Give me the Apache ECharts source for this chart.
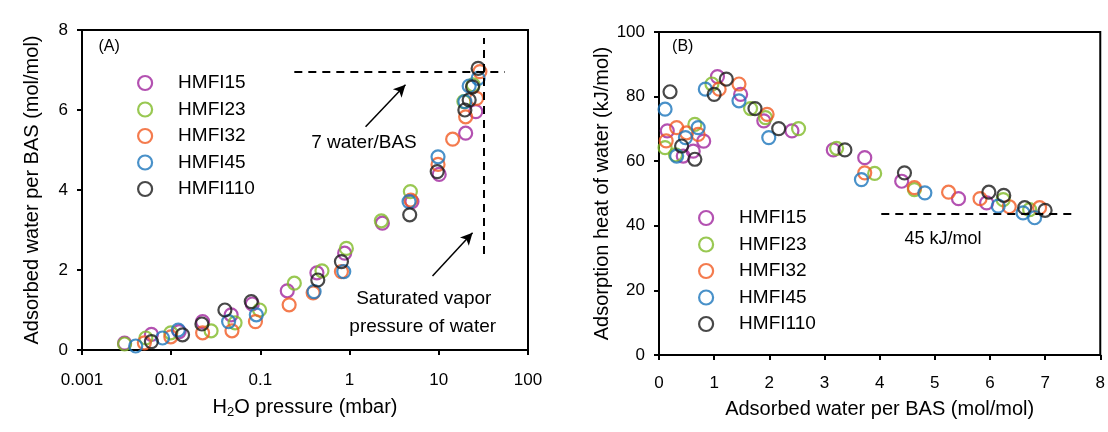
<!DOCTYPE html>
<html>
<head>
<meta charset="utf-8">
<script src="https://cdn.jsdelivr.net/npm/echarts@6/dist/echarts.min.js"></script>
<style>
  html, body { margin: 0; padding: 0; background: #fff; }
  #chart { width: 1108px; height: 432px; }
</style>
</head>
<body>
<div id="chart"></div>
<script>
// series names + colours
var names = ["HMFI15", "HMFI23", "HMFI32", "HMFI45", "HMFI110"];
var colors = ["#A0259E", "#80BA27", "#F15A22", "#1C75BC", "#1a1a1a"];

// Panel A: H2O pressure (mbar) / adsorbed water per BAS
var pA15 = [0.0030, 0.0060, 0.0123, 0.0225, 0.047, 0.081, 0.20, 0.43, 0.88, 2.33, 5.0, 10.1, 20, 26];
var wA15 = [0.17, 0.39, 0.46, 0.71, 0.88, 1.15, 1.48, 1.93, 2.42, 3.17, 3.71, 4.39, 5.42, 5.96];
var pA23 = [0.0030, 0.0052, 0.0099, 0.028, 0.052, 0.098, 0.24, 0.49, 0.92, 2.27, 4.8, 19.1, 24.3];
var wA23 = [0.15, 0.30, 0.43, 0.48, 0.68, 1.00, 1.67, 1.98, 2.54, 3.23, 3.96, 6.21, 6.63];
var pA32 = [0.0050, 0.0099, 0.0225, 0.048, 0.088, 0.21, 0.39, 0.81, 4.85, 9.8, 14.3, 20, 26.5, 28.9];
var wA32 = [0.18, 0.33, 0.43, 0.48, 0.71, 1.13, 1.43, 1.96, 3.75, 4.64, 5.27, 5.83, 6.29, 6.96];
var pA45 = [0.0040, 0.0080, 0.0120, 0.044, 0.090, 0.40, 0.86, 4.64, 9.8, 19.6, 21.9, 27.6];
var wA45 = [0.10, 0.30, 0.50, 0.71, 0.88, 1.46, 1.96, 3.71, 4.83, 6.21, 6.60, 6.79];
var pA110 = [0.0060, 0.0134, 0.0221, 0.040, 0.079, 0.44, 0.81, 4.72, 9.6, 19.6, 21.9, 23.9, 27.6];
var wA110 = [0.21, 0.38, 0.65, 1.00, 1.21, 1.75, 2.21, 3.38, 4.46, 6.00, 6.25, 6.58, 7.04];

// Panel B: adsorbed water per BAS / adsorption heat (kJ/mol)
var wB15 = [0.15, 0.44, 0.62, 0.81, 1.06, 1.48, 1.90, 2.41, 3.16, 3.73, 4.40, 5.43, 5.94];
var hB15 = [69.4, 61.6, 63.1, 66.2, 86.2, 80.7, 72.5, 69.4, 63.5, 61.1, 53.8, 48.4, 47.1];
var wB23 = [0.11, 0.30, 0.65, 0.96, 1.66, 1.93, 2.53, 3.22, 3.91, 4.63, 6.24, 6.72];
var hB23 = [64.2, 62.0, 71.4, 83.9, 76.3, 73.5, 70.1, 64.0, 56.2, 51.2, 48.1, 45.0];
var wB32 = [0.13, 0.32, 0.50, 0.71, 1.09, 1.45, 1.96, 3.73, 4.63, 5.25, 5.82, 6.35, 6.90];
var hB32 = [66.3, 70.4, 68.8, 68.3, 82.3, 83.9, 74.5, 56.4, 51.8, 50.4, 48.4, 45.9, 45.6];
var wB45 = [0.11, 0.32, 0.48, 0.71, 0.84, 1.45, 1.99, 3.67, 4.82, 6.15, 6.60, 6.81];
var hB45 = [76.1, 61.6, 67.3, 70.4, 82.3, 78.7, 67.3, 54.3, 50.2, 46.1, 44.0, 42.5];
var wB110 = [0.20, 0.41, 0.65, 1.00, 1.22, 1.74, 2.17, 3.37, 4.45, 5.98, 6.25, 6.63, 7.00];
var hB110 = [81.5, 64.7, 60.6, 80.7, 85.4, 76.3, 70.1, 63.5, 56.4, 50.4, 49.4, 45.6, 44.8];

// annotation coordinates (data space)
var waterLineA = [[0.24, 6.96], [55, 6.96]];
var satLineA = [[32, 2.4], [32, 7.8]];
var arrow1A = [[1.51, 5.58], [4.23, 6.63]];
var arrow2A = [[8.5, 1.85], [23.9, 2.93]];
var heatLineB = [[4.03, 43.7], [7.55, 43.7]];

var xsA = [pA15, pA23, pA32, pA45, pA110];
var ysA = [wA15, wA23, wA32, wA45, wA110];
var xsB = [wB15, wB23, wB32, wB45, wB110];
var ysB = [hB15, hB23, hB32, hB45, hB110];

var font = "'Liberation Sans', Arial, sans-serif";

function zip(xs, ys) {
  return xs.map(function (x, i) { return [x, ys[i]]; });
}

function seg(pair) {
  return [{ coord: pair[0] }, { coord: pair[1] }];
}

var dom = document.getElementById("chart");
var chart = echarts.init(dom, null, { renderer: "canvas" });

var axisCommon = {
  axisLine: { show: true, lineStyle: { color: "#000", width: 2 } },
  axisTick: { show: true, inside: false, length: 5, lineStyle: { color: "#000", width: 2 } },
  splitLine: { show: false },
  axisLabel: { color: "#000", fontSize: 17, fontFamily: font },
  nameTextStyle: { color: "#000", fontSize: 20, fontFamily: font },
  nameLocation: "middle"
};

var series = [];
names.forEach(function (n, i) {
  series.push({
    name: n,
    type: "scatter",
    xAxisIndex: 0,
    yAxisIndex: 0,
    symbol: "circle",
    symbolSize: 13,
    color: colors[i],
    itemStyle: { color: "rgba(255,255,255,0)", borderColor: colors[i], borderWidth: 2.2 },
    data: zip(xsA[i], ysA[i])
  });
  series.push({
    name: n,
    type: "scatter",
    xAxisIndex: 1,
    yAxisIndex: 1,
    symbol: "circle",
    symbolSize: 13,
    color: colors[i],
    itemStyle: { color: "rgba(255,255,255,0)", borderColor: colors[i], borderWidth: 2.2 },
    data: zip(xsB[i], ysB[i])
  });
});

var dashStyle = { color: "#000", width: 2, type: [8, 6] };
var arrowStyle = { color: "#000", width: 1.5, type: "solid" };

function dashed(pair) {
  var d = seg(pair);
  d[0].symbol = "none";
  d[1].symbol = "none";
  d[0].lineStyle = dashStyle;
  return d;
}

function arrow(pair) {
  var d = seg(pair);
  d[0].symbol = "none";
  d[1].symbol = "arrow";
  d[1].symbolSize = [9, 12];
  d[0].lineStyle = arrowStyle;
  return d;
}

series.push({
  name: "annotA",
  type: "line",
  xAxisIndex: 0,
  yAxisIndex: 0,
  data: [],
  silent: true,
  markLine: {
    silent: true,
    animation: false,
    label: { show: false },
    data: [dashed(waterLineA), dashed(satLineA), arrow(arrow1A), arrow(arrow2A)]
  }
});

series.push({
  name: "annotB",
  type: "line",
  xAxisIndex: 1,
  yAxisIndex: 1,
  data: [],
  silent: true,
  markLine: {
    silent: true,
    animation: false,
    label: { show: false },
    data: [dashed(heatLineB)]
  }
});

var legendCommon = {
  orient: "vertical",
  itemWidth: 48,
  itemHeight: 14,
  itemGap: 6.5,
  icon: "circle",
  textStyle: { color: "#000", fontSize: 19, fontFamily: font, lineHeight: 20, padding: [0, 0, 0, 4] },
  itemStyle: { color: "rgba(255,255,255,0)", borderWidth: 2.2 },
  data: names,
  selectedMode: false
};

var option = {
  animation: false,
  backgroundColor: "#fff",
  grid: [
    { left: 82, right: 580, top: 30, bottom: 82, show: true, borderColor: "#000", borderWidth: 2 },
    { left: 659, right: 4, top: 32, bottom: 77, show: true, borderColor: "#000", borderWidth: 2 }
  ],
  legend: [
    Object.assign({}, legendCommon, { left: 132, top: 68 }),
    Object.assign({}, legendCommon, { left: 693, top: 203 })
  ],
  xAxis: [
    Object.assign({}, axisCommon, {
      type: "log",
      logBase: 10,
      gridIndex: 0,
      min: 0.001,
      max: 100,
      name: "{n|H}{s|2}{n|O pressure (mbar)}",
      nameGap: 46,
      nameTextStyle: {
        rich: {
          n: { color: "#000", fontSize: 20, fontFamily: font },
          s: { color: "#000", fontSize: 13, fontFamily: font, verticalAlign: "bottom", padding: [10, 0, 0, 0] }
        }
      },
      axisLabel: Object.assign({}, axisCommon.axisLabel, {
        margin: 22,
        formatter: function (v) { return String(+v.toPrecision(3)); }
      })
    }),
    Object.assign({}, axisCommon, {
      type: "value",
      gridIndex: 1,
      min: 0,
      max: 8,
      interval: 1,
      name: "Adsorbed water per BAS (mol/mol)",
      nameGap: 44,
      axisLabel: Object.assign({}, axisCommon.axisLabel, { margin: 20 })
    })
  ],
  yAxis: [
    Object.assign({}, axisCommon, {
      type: "value",
      gridIndex: 0,
      min: 0,
      max: 8,
      interval: 2,
      name: "Adsorbed water per BAS (mol/mol)",
      nameGap: 40,
      axisLabel: Object.assign({}, axisCommon.axisLabel, { margin: 14 })
    }),
    Object.assign({}, axisCommon, {
      type: "value",
      gridIndex: 1,
      min: 0,
      max: 100,
      interval: 20,
      name: "Adsorption heat of water (kJ/mol)",
      nameGap: 42,
      axisLabel: Object.assign({}, axisCommon.axisLabel, { margin: 14 })
    })
  ],
  series: series
};

chart.setOption(option);

// text annotations positioned through the axes
var textsA = [
  { t: "(A)", at: [0.00201, 7.58], size: 16 },
  { t: "7 water/BAS", at: [1.45, 5.18], size: 19 },
  { t: "Saturated vapor", at: [6.78, 1.27], size: 19 },
  { t: "pressure of water", at: [6.6, 0.58], size: 19 }
];
var textsB = [
  { t: "(B)", at: [0.43, 95.6], size: 16 },
  { t: "45 kJ/mol", at: [5.15, 35.9], size: 18 }
];

var graphics = [];
textsA.forEach(function (o) {
  var p = chart.convertToPixel({ gridIndex: 0 }, o.at);
  graphics.push({ type: "text", x: p[0], y: p[1], style: { text: o.t, fill: "#000", font: o.size + "px " + font, textAlign: "center", textVerticalAlign: "middle" } });
});
textsB.forEach(function (o) {
  var p = chart.convertToPixel({ gridIndex: 1 }, o.at);
  graphics.push({ type: "text", x: p[0], y: p[1], style: { text: o.t, fill: "#000", font: o.size + "px " + font, textAlign: "center", textVerticalAlign: "middle" } });
});
chart.setOption({ graphic: graphics });

window.addEventListener("resize", chart.resize);
</script>
</body>
</html>
